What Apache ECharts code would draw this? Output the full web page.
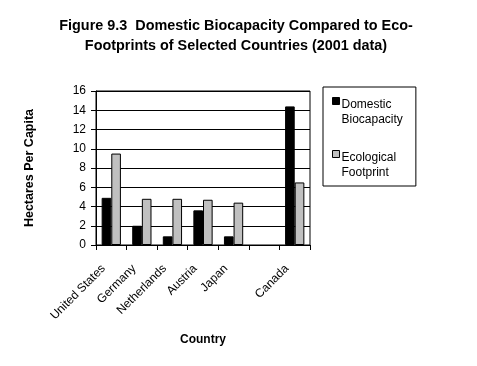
<!DOCTYPE html>
<html>
<head>
<meta charset="utf-8">
<script src="https://cdn.jsdelivr.net/npm/echarts@6/dist/echarts.min.js"></script>
<style>html,body{margin:0;padding:0;background:#fff}#c{width:477px;height:366px}</style>
</head>
<body>
<div id="c"></div>
<script>
const categories = ['United States', 'Germany', 'Netherlands', 'Austria', 'Japan', '', 'Canada'];
const biocapacity = [4.9, 2.0, 0.9, 3.6, 0.9, null, 14.4];
const footprint = [9.5, 4.8, 4.8, 4.7, 4.4, null, 6.5];
const seriesNames = ['Domestic\nBiocapacity', 'Ecological\nFootprint'];
const yTicks = { min: 0, max: 16, interval: 2 };

const FONT = 'Liberation Sans, Arial, sans-serif';
const chart = echarts.init(document.getElementById('c'), null, { renderer: 'canvas' });
const legendIcon = 'path://M0,0L7,0L7,7L0,7Z M0,30';
chart.setOption({
  animation: false,
  backgroundColor: '#fff',
  title: {
    text: 'Figure 9.3  Domestic Biocapacity Compared to Eco-\nFootprints of Selected Countries (2001 data)',
    left: 231, top: 11, textAlign: 'center',
    textStyle: { fontFamily: FONT, fontSize: 14.4, fontWeight: 'bold', color: '#000', lineHeight: 20 }
  },
  legend: {
    orient: 'vertical',
    left: 323, top: 87,
    padding: [10, 13, 5, 9],
    itemGap: 22,
    itemWidth: 7, itemHeight: 30,
    borderColor: '#000', borderWidth: 1,
    textStyle: { fontFamily: FONT, fontSize: 12, color: '#000', lineHeight: 15, padding: [0, 0, 0, -3] },
    data: [
      { name: seriesNames[0], icon: legendIcon, itemStyle: { color: '#000', borderColor: '#000', borderWidth: 1 } },
      { name: seriesNames[1], icon: legendIcon, itemStyle: { color: '#c0c0c0', borderColor: '#000', borderWidth: 1 } }
    ]
  },
  grid: {
    left: 96, right: 167, top: 91, bottom: 121,
    show: true, borderColor: '#000', borderWidth: 1, backgroundColor: '#fff'
  },
  xAxis: {
    type: 'category',
    data: categories,
    name: 'Country',
    nameLocation: 'middle',
    nameGap: 89,
    nameTextStyle: { fontFamily: FONT, fontSize: 12, fontWeight: 'bold', color: '#000' },
    axisLine: { lineStyle: { color: '#000', width: 1 } },
    axisTick: { show: true, length: 5, lineStyle: { color: '#000' }, alignWithLabel: false },
    axisLabel: { rotate: 45, interval: 0, margin: 14, padding: [0, 11, 0, 0], fontFamily: FONT, fontSize: 12, color: '#000' }
  },
  yAxis: {
    type: 'value',
    min: yTicks.min, max: yTicks.max, interval: yTicks.interval,
    name: 'Hectares Per Capita',
    nameLocation: 'middle',
    nameGap: 60,
    nameTextStyle: { fontFamily: FONT, fontSize: 12.5, fontWeight: 'bold', color: '#000' },
    axisLine: { show: true, lineStyle: { color: '#000', width: 1 } },
    axisTick: { show: true, length: 5, lineStyle: { color: '#000' } },
    axisLabel: { margin: 10, fontFamily: FONT, fontSize: 12, color: '#000' },
    splitLine: { show: true, lineStyle: { color: '#000', width: 1 } }
  },
  series: [
    {
      name: seriesNames[0], type: 'bar', data: biocapacity,
      barGap: '0%', barCategoryGap: '37%',
      itemStyle: { color: '#000', borderColor: '#000', borderWidth: 1 }
    },
    {
      name: seriesNames[1], type: 'bar', data: footprint,
      barGap: '0%', barCategoryGap: '37%',
      itemStyle: { color: '#c0c0c0', borderColor: '#000', borderWidth: 1 }
    }
  ]
});
</script>
</body>
</html>
